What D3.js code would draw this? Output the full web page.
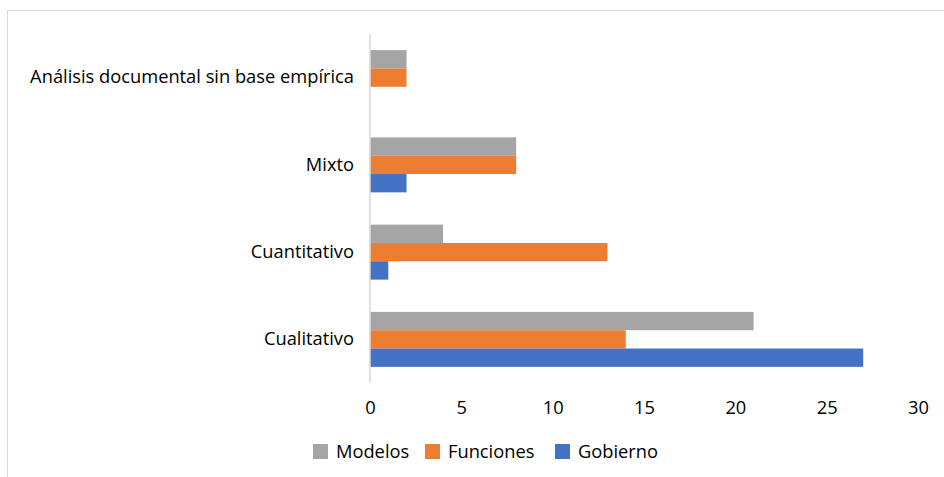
<!DOCTYPE html>
<html>
<head>
<meta charset="utf-8">
<script src="https://cdn.jsdelivr.net/npm/d3@7"></script>
<style>
  html, body { margin: 0; padding: 0; background: #fff; }
  svg text { font-family: "Open Sans", Lato, sans-serif; fill: #000; }
</style>
</head>
<body>
<svg id="chart" width="944" height="477"></svg>
<script>
// Categories, top to bottom
const categories = ["Análisis documental sin base empírica", "Mixto", "Cuantitativo", "Cualitativo"];
const seriesNames = ["Modelos", "Funciones", "Gobierno"];
const seriesColors = ["#a5a5a5", "#ed7d31", "#4472c4"];
// Values per series, in category order
const modelos   = [2, 8, 4, 21];
const funciones = [2, 8, 13, 14];
const gobierno  = [0, 2, 1, 27];
const xTicks = [0, 5, 10, 15, 20, 25, 30];

const seriesValues = [modelos, funciones, gobierno];

const svg = d3.select("#chart");
const fontSize = 18.3;

// Outer frame
svg.append("rect")
  .attr("x", 7.5).attr("y", 10.5)
  .attr("width", 960).attr("height", 500)
  .attr("fill", "none").attr("stroke", "#d9d9d9").attr("stroke-width", 1);

const plot = { left: 370, right: 918, top: 34, bottom: 383 };

const x = d3.scaleLinear().domain([0, 30]).range([plot.left, plot.right]);
const y = d3.scaleBand().domain(categories).range([plot.top, plot.bottom])
  .paddingInner(0.37).paddingOuter(0.185);
const ySub = d3.scaleBand().domain(seriesNames).range([0, y.bandwidth()]);

// Bars
const rows = [];
categories.forEach((c, i) => {
  seriesNames.forEach((s, j) => {
    rows.push({ cat: c, series: s, value: seriesValues[j][i], color: seriesColors[j] });
  });
});
svg.append("g").selectAll("rect").data(rows).join("rect")
  .attr("x", x(0))
  .attr("y", d => y(d.cat) + ySub(d.series))
  .attr("width", d => x(d.value) - x(0))
  .attr("height", ySub.bandwidth())
  .attr("fill", d => d.color);

// Vertical baseline
svg.append("line")
  .attr("x1", x(0)).attr("x2", x(0))
  .attr("y1", plot.top).attr("y2", plot.bottom)
  .attr("stroke", "#d9d9d9").attr("stroke-width", 1.5);

// Category labels
const yAxis = d3.axisLeft(y).tickSize(0).tickPadding(16);
const gy = svg.append("g").attr("transform", `translate(${x(0)},0)`).call(yAxis);
gy.select(".domain").remove();
gy.selectAll("text").style("font-size", fontSize + "px").style("font-family", null);

// Value axis labels
const xAxis = d3.axisBottom(x).tickValues(xTicks).tickSize(0).tickPadding(18);
const gx = svg.append("g").attr("transform", `translate(0,${plot.bottom})`).call(xAxis);
gx.select(".domain").remove();
gx.selectAll("text").style("font-size", fontSize + "px").style("font-family", null);

// Legend
const legendItems = [
  { name: "Modelos", color: seriesColors[0], x: 313 },
  { name: "Funciones", color: seriesColors[1], x: 425 },
  { name: "Gobierno", color: seriesColors[2], x: 555 }
];
const lg = svg.append("g").selectAll("g").data(legendItems).join("g")
  .attr("transform", d => `translate(${d.x},444)`);
lg.append("rect").attr("width", 15).attr("height", 15).attr("fill", d => d.color);
lg.append("text").attr("x", 23).attr("y", 7.5).attr("dy", "0.35em")
  .style("font-size", fontSize + "px").text(d => d.name);
</script>
</body>
</html>
